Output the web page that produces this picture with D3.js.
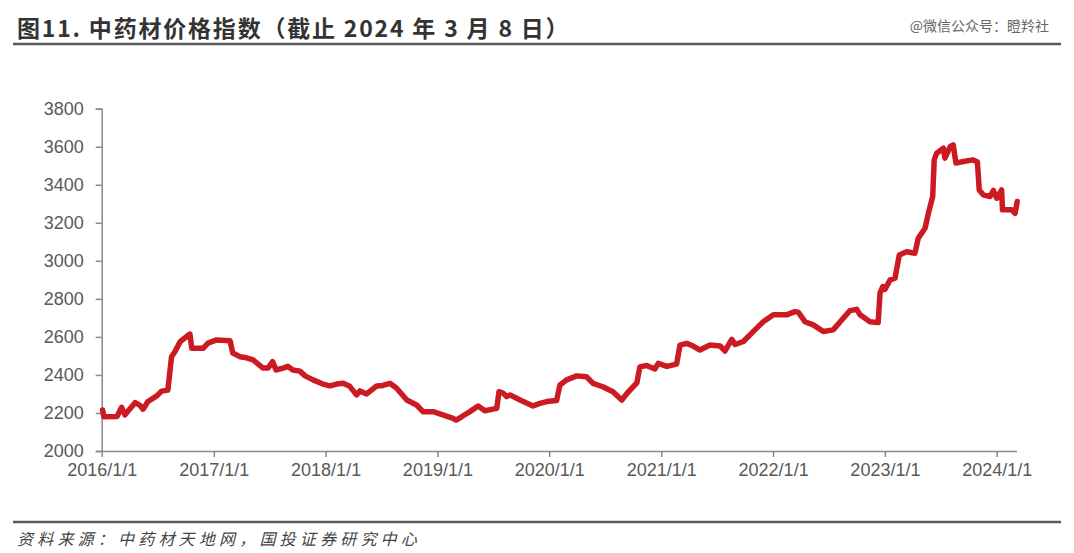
<!DOCTYPE html>
<html>
<head>
<meta charset="utf-8">
<script src="https://cdn.jsdelivr.net/npm/d3@7"></script>
<style>
  body { margin: 0; background: #fff; }
  svg { display: block; }
</style>
</head>
<body>
<svg id="chart" width="1074" height="553"></svg>
<script>
// data
const dates = [
  "2016-01-04","2016-01-08","2016-02-20","2016-03-06","2016-03-17","2016-04-19","2016-05-05","2016-05-15","2016-05-31",
  "2016-06-29","2016-07-15","2016-08-04","2016-08-16","2016-08-27","2016-09-13","2016-10-15","2016-10-21","2016-11-27",
  "2016-12-13","2017-01-10","2017-02-23","2017-03-04","2017-03-27","2017-04-18","2017-05-09","2017-06-11","2017-06-27",
  "2017-07-12","2017-07-23","2017-08-15","2017-08-31","2017-09-16","2017-10-09","2017-10-26","2017-11-21","2017-12-23",
  "2018-01-15","2018-02-06","2018-02-27","2018-03-21","2018-04-12","2018-04-23","2018-05-15","2018-06-17","2018-07-07",
  "2018-07-30","2018-08-21","2018-09-23","2018-10-25","2018-11-15","2018-12-18","2019-01-19","2019-02-21","2019-03-03",
  "2019-03-21","2019-04-17","2019-05-14","2019-06-05","2019-07-01","2019-07-14","2019-07-21","2019-08-03","2019-08-15",
  "2019-08-26","2019-09-28","2019-11-09","2019-12-02","2019-12-24","2020-01-25","2020-02-05","2020-02-27","2020-03-31",
  "2020-05-02","2020-05-23","2020-06-24","2020-07-27","2020-08-25","2020-09-12","2020-10-13","2020-10-23","2020-11-14",
  "2020-12-11","2020-12-22","2021-01-19","2021-02-20","2021-03-03","2021-03-25","2021-04-15","2021-05-07","2021-06-09",
  "2021-07-12","2021-07-28","2021-08-19","2021-08-30","2021-09-26","2021-10-28","2021-11-30","2022-01-02","2022-02-14",
  "2022-03-13","2022-03-24","2022-04-15","2022-05-12","2022-06-14","2022-07-16","2022-08-18","2022-09-09","2022-10-01",
  "2022-10-12","2022-11-13","2022-12-10","2022-12-16","2022-12-25","2023-01-01","2023-01-18","2023-02-03","2023-02-17",
  "2023-03-13","2023-04-09","2023-04-20","2023-05-12","2023-05-23","2023-06-06","2023-06-11","2023-06-19","2023-07-11",
  "2023-07-16","2023-08-02","2023-08-12","2023-08-21","2023-09-14","2023-10-16","2023-10-30","2023-11-05","2023-11-18",
  "2023-12-10","2023-12-21","2024-01-01","2024-01-17","2024-01-20","2024-02-19","2024-03-01","2024-03-08"
]
const values = [
  2216,2180,2182,2230,2190,2254,2240,2220,2260,
  2290,2315,2320,2496,2522,2575,2615,2540,2540,
  2567,2584,2580,2515,2496,2490,2479,2436,2436,
  2470,2426,2436,2445,2426,2420,2395,2374,2352,
  2342,2352,2356,2340,2295,2316,2300,2342,2345,
  2356,2330,2268,2242,2207,2207,2190,2172,2163,
  2180,2207,2237,2212,2220,2225,2312,2305,2286,
  2295,2268,2237,2250,2260,2265,2347,2374,2395,
  2390,2356,2338,2312,2268,2305,2358,2442,2450,
  2431,2461,2445,2457,2557,2566,2552,2531,2557,
  2552,2526,2587,2560,2576,2628,2680,2716,2716,
  2733,2730,2680,2663,2628,2637,2698,2738,2745,
  2716,2680,2675,2830,2865,2850,2900,2909,3031,
  3048,3040,3119,3171,3250,3338,3531,3566,3592,
  3540,3601,3610,3514,3522,3531,3520,3373,3347,
  3338,3370,3329,3373,3268,3268,3250,3312
]
const yTicks = [2000,2200,2400,2600,2800,3000,3200,3400,3600,3800]
const xTicks = ["2016-01-01","2017-01-01","2018-01-01","2019-01-01","2020-01-01","2021-01-01","2022-01-01","2023-01-01","2024-01-01"]

const parse = d3.timeParse("%Y-%m-%d")
const fmt = d3.timeFormat("%Y/%-m/%-d")
const series = dates.map((d, i) => ({ date: parse(d), value: values[i] }))

const svg = d3.select("#chart")
const font = "'Liberation Sans', Arial, sans-serif"
const cjk = "'Noto Sans CJK SC', sans-serif"

const x = d3.scaleTime()
    .domain([parse("2016-01-01"), parse("2024-01-01")])
    .range([101.7, 996.7])
const y = d3.scaleLinear()
    .domain([2000, 3800])
    .range([451, 108.7])

// title + rules
svg.append("text")
    .attr("x", 17).attr("y", 37)
    .attr("font-family", cjk).attr("font-weight", "bold")
    .attr("font-size", 23).attr("letter-spacing", 1.8).attr("fill", "#333")
    .text("图11. 中药材价格指数（截止 2024 年 3 月 8 日）")
svg.append("text")
    .attr("x", 1049).attr("y", 31)
    .attr("text-anchor", "end")
    .attr("font-family", cjk).attr("font-size", 14).attr("fill", "#666")
    .text("@微信公众号：瞪羚社")
svg.append("line")
    .attr("x1", 13).attr("x2", 1061).attr("y1", 44).attr("y2", 44)
    .attr("stroke", "#595959").attr("stroke-width", 2.5)
svg.append("line")
    .attr("x1", 13).attr("x2", 1061).attr("y1", 522).attr("y2", 522)
    .attr("stroke", "#595959").attr("stroke-width", 2.5)
svg.append("text")
    .attr("x", 17).attr("y", 545)
    .attr("font-family", cjk).attr("font-style", "italic")
    .attr("font-size", 16).attr("letter-spacing", 4.2).attr("fill", "#444")
    .text("资料来源：中药材天地网，国投证券研究中心")

// y axis
const yAxis = svg.append("g")
    .attr("transform", "translate(101.7,0)")
    .call(d3.axisLeft(y).tickValues(yTicks).tickSize(6).tickPadding(12).tickFormat(d3.format("d")))
yAxis.select(".domain").attr("stroke", "#888").attr("stroke-width", 1.5)
yAxis.selectAll(".tick line").attr("stroke", "#888").attr("stroke-width", 1.5)
yAxis.selectAll("text").attr("font-family", font).attr("font-size", 18).attr("fill", "#595959")

// x axis
const xAxis = svg.append("g")
    .attr("transform", "translate(0,451)")
    .call(d3.axisBottom(x).tickValues(xTicks.map(parse)).tickSize(6).tickSizeOuter(0).tickPadding(6).tickFormat(fmt))
xAxis.select(".domain").attr("d", `M101.7,0.5H1017`).attr("stroke", "#888").attr("stroke-width", 1.5)
xAxis.selectAll(".tick line").attr("stroke", "#888").attr("stroke-width", 1.5)
xAxis.selectAll("text").attr("font-family", font).attr("font-size", 18).attr("fill", "#595959")

// line
const line = d3.line()
    .x(d => x(d.date))
    .y(d => y(d.value))
svg.append("path")
    .datum(series)
    .attr("d", line)
    .attr("fill", "none")
    .attr("stroke", "#CC1A22")
    .attr("stroke-width", 5.5)
    .attr("stroke-linejoin", "round")
    .attr("stroke-linecap", "round")
</script>
</body>
</html>
